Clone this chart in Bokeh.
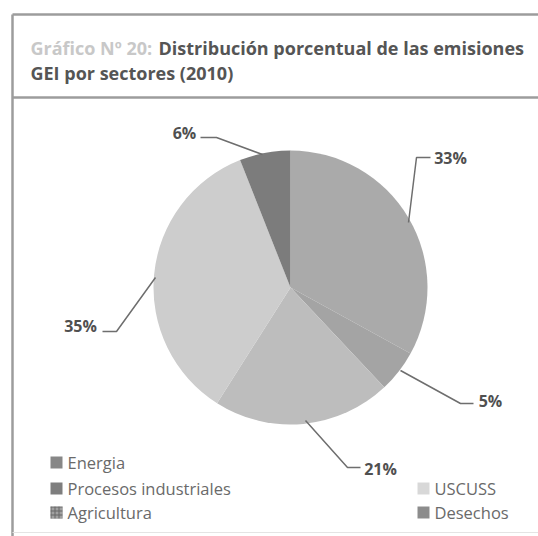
import math
from bokeh.plotting import figure
from bokeh.models import Range1d, ColumnDataSource
from bokeh.core.properties import value
from bokeh.embed import file_html
from bokeh.resources import INLINE

# ---- data ----
sectors = ["Energia", "Procesos industriales", "Agricultura", "USCUSS", "Desechos"]
shares = [33, 5, 21, 35, 6]
pct_labels = ["33%", "5%", "21%", "35%", "6%"]
title_prefix = "Gráfico Nº 20:"
title_line1 = "Distribución porcentual de las emisiones"
title_line2 = "GEI por sectores (2010)"

# ---- styles ----
slice_colors = ["#aaaaaa", "#a4a4a4", "#bdbdbd", "#cdcdcd", "#7c7c7c"]
legend_colors = ["#878787", "#7e7e7e", "#a0a0a0", "#d8d8d8", "#8c8c8c"]

W, H = 538, 536
def X(px):
    return px
def Y(py):
    return H - py

p = figure(width=W, height=H, x_range=Range1d(0, W), y_range=Range1d(0, H),
           output_backend="svg", toolbar_location=None, min_border=0,
           x_axis_location=None, y_axis_location=None)
p.grid.visible = False
p.outline_line_color = None
p.background_fill_color = "white"
p.border_fill_color = "white"

# ---- frame ----
frame_col = "#9c9c9c"
p.line(x=[X(12), X(538)], y=[Y(14), Y(14)], line_color=frame_col, line_width=2.5)
p.line(x=[X(12), X(538)], y=[Y(97), Y(97)], line_color=frame_col, line_width=2.5)
p.line(x=[X(12), X(12)], y=[Y(14), Y(536)], line_color=frame_col, line_width=2.5)
p.line(x=[X(12), X(538)], y=[Y(532), Y(532)], line_color="#e4e4e4", line_width=1)

# ---- title ----
font = value("Open Sans")
p.text(x=[X(30)], y=[Y(47)], text=[title_prefix], text_font=font, text_font_size="18px",
       text_font_style="bold", text_color="#c8c8c8", text_baseline="alphabetic", text_align="left")
p.text(x=[X(158)], y=[Y(47)], text=[title_line1], text_font=font, text_font_size="18px",
       text_font_style="bold", text_color="#555555", text_baseline="alphabetic", text_align="left")
p.text(x=[X(30)], y=[Y(72)], text=[title_line2], text_font=font, text_font_size="18px",
       text_font_style="bold", text_color="#555555", text_baseline="alphabetic", text_align="left")

# ---- pie ----
total = float(sum(shares))
starts, ends = [], []
cum = 0.0
for v in shares:
    starts.append(math.pi / 2 - 2 * math.pi * cum / total)
    cum += v
    ends.append(math.pi / 2 - 2 * math.pi * cum / total)
src = ColumnDataSource(dict(sector=sectors, share=shares, start=starts, end=ends, color=slice_colors))
p.wedge(x=X(290), y=Y(287), radius=137, start_angle="start", end_angle="end",
        direction="clock", fill_color="color", line_color=None, source=src)

# ---- leader lines & labels ----
label_pos = [(450, 157), (490, 400), (380, 468), (80, 325), (184, 132)]
leaders = [
    [(430, 157), (416, 157), (408, 222)],
    [(473, 403), (460, 403), (400, 370)],
    [(360, 467), (347, 467), (305, 420)],
    [(102, 331), (116, 331), (155, 277)],
    [(200, 137), (216, 137), (262, 154)],
]
p.multi_line(xs=[[X(a) for a, b in l] for l in leaders], ys=[[Y(b) for a, b in l] for l in leaders],
             line_color="#6e6e6e", line_width=1.5)
p.text(x=[X(a) for a, b in label_pos], y=[Y(b) for a, b in label_pos], text=pct_labels,
       text_font=font, text_font_size="16px", text_font_style="bold", text_color="#505050",
       text_align="center", text_baseline="middle")

# ---- legend ----
leg_pos = [(56, 462), (56, 488), (56, 512), (423, 488), (423, 512)]
hatches = [" ", " ", "+", " ", " "]
p.rect(x=[X(a) for a, b in leg_pos], y=[Y(b) for a, b in leg_pos], width=12, height=12,
       fill_color=legend_colors, line_color=None, hatch_pattern=hatches, hatch_color="#666666",
       hatch_scale=4)
p.text(x=[X(a + 11) for a, b in leg_pos], y=[Y(b) for a, b in leg_pos], text=sectors,
       text_font=font, text_font_size="16.5px", text_color="#6a6a6a",
       text_align="left", text_baseline="middle")

open("out.html", "w").write(file_html(p, INLINE))
